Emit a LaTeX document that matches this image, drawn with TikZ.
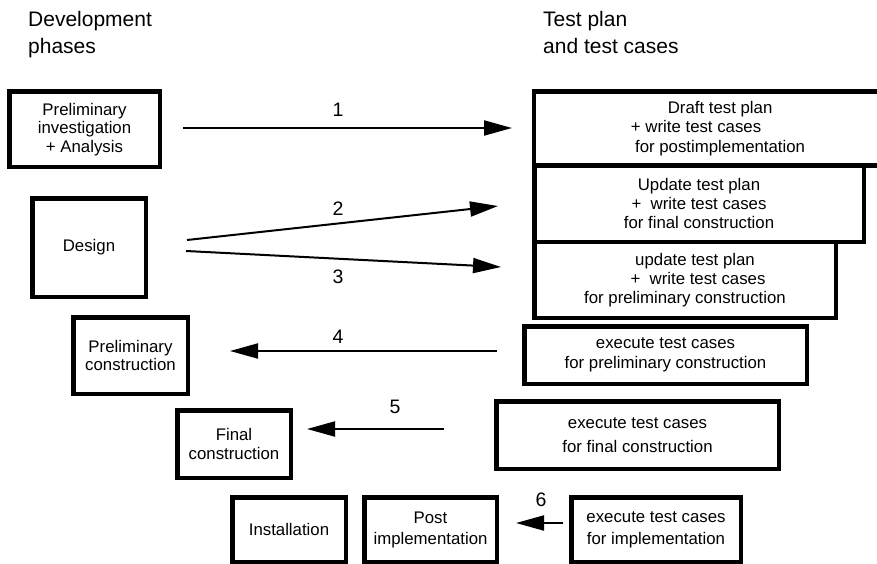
\documentclass[tikz,border=0pt]{standalone}
\usepackage{fontspec}
\setmainfont{Liberation Sans}
\usetikzlibrary{arrows.meta}
\newcommand{\padright}[1]{\makebox[#1]{}}
\begin{document}
\begin{tikzpicture}[x=1pt,y=-1pt,
  phase/.style={draw, line width=4.5pt, inner sep=0pt, align=center,
    font=\fontsize{16.8}{18.5}\selectfont},
  conn/.style={line width=2pt, -{Triangle[length=28pt,width=15pt]}},
  num/.style={font=\fontsize{19.5}{19.5}\selectfont, inner sep=0pt},
  heading/.style={font=\fontsize{21}{27}\selectfont, align=left,
    inner sep=0pt, anchor=north west}]
\path[use as bounding box] (0,0) rectangle (877,564);
\clip (0,0) rectangle (877,564);

% column headings
\node[heading] (hdev) at (28,10.8) {Development\\phases};
\node[heading] (htest) at (543,10.8) {Test plan\\and test cases};

% development phases
\node[phase, minimum width=150.5pt, minimum height=75.5pt] (pi) at (84.5,129.5)
  {Preliminary\\investigation\\+ Analysis};
\node[phase, minimum width=113.5pt, minimum height=98.5pt] (design) at (89,247.5)
  {Design};
\node[phase, minimum width=114.5pt, minimum height=76.5pt] (pc) at (130.5,355.5)
  {Preliminary\\construction};
\node[phase, minimum width=113.5pt, minimum height=67.5pt] (fc) at (234,444)
  {Final\\construction};
\node[phase, minimum width=113.5pt, minimum height=64.5pt] (inst) at (289,529.5)
  {Installation};
\node[phase, minimum width=132.5pt, minimum height=64.5pt,
  font=\fontsize{16.8}{21}\selectfont] (post) at (430.5,529.5)
  {Post\\implementation};

% test plan and test cases
\node[phase, minimum width=371.75pt, minimum height=74.25pt,
  font=\fontsize{16.8}{19.5}\selectfont] (draft) at (720.1,128.4)
  {Draft test plan\\+ write test cases\padright{48pt}\\for postimplementation};
\node[phase, minimum width=329.5pt, minimum height=76.5pt,
  font=\fontsize{16.8}{19}\selectfont] (upfinal) at (699,203.75)
  {Update test plan\\+\ \ write test cases\\for final construction};
\node[phase, minimum width=301.5pt, minimum height=75.75pt,
  font=\fontsize{16.8}{19}\selectfont] (upprel) at (685,279.9)
  {\padright{20pt}update test plan\\\padright{26pt}+\ \ write test cases\\for preliminary construction};
\node[phase, minimum width=282.5pt, minimum height=57.5pt,
  font=\fontsize{16.8}{20}\selectfont] (ep) at (665.5,355)
  {execute test cases\\for preliminary construction};
\node[phase, minimum width=282.5pt, minimum height=67.5pt,
  font=\fontsize{16.8}{24}\selectfont] (ef) at (637.5,435)
  {execute test cases\\for final construction};
\node[phase, minimum width=169.5pt, minimum height=64.5pt,
  font=\fontsize{16.8}{22}\selectfont] (ei) at (656,529.5)
  {execute test cases\\for implementation};

% connector end points
\coordinate (c1s) at (183,128);  \coordinate (c1e) at (512,128);
\coordinate (c2s) at (187,240);  \coordinate (c2e) at (498,206);
\coordinate (c3s) at (186,251);  \coordinate (c3e) at (501,267);
\coordinate (c4s) at (497,351);  \coordinate (c4e) at (230,351);
\coordinate (c5s) at (444,429);  \coordinate (c5e) at (307,429);
\coordinate (c6s) at (563,523);  \coordinate (c6e) at (516,523);

\draw[conn] (c1s) -- (c1e);
\draw[conn] (c2s) -- (c2e);
\draw[conn] (c3s) -- (c3e);
\draw[conn] (c4s) -- (c4e);
\draw[conn] (c5s) -- (c5e);
\draw[conn] (c6s) -- (c6e);

% step numbers
\node[num] (n1) at (338,109.5) {1};
\node[num] (n2) at (338,209) {2};
\node[num] (n3) at (338,276.5) {3};
\node[num] (n4) at (338,337) {4};
\node[num] (n5) at (395,407) {5};
\node[num] (n6) at (541,500) {6};
\end{tikzpicture}
\end{document}
